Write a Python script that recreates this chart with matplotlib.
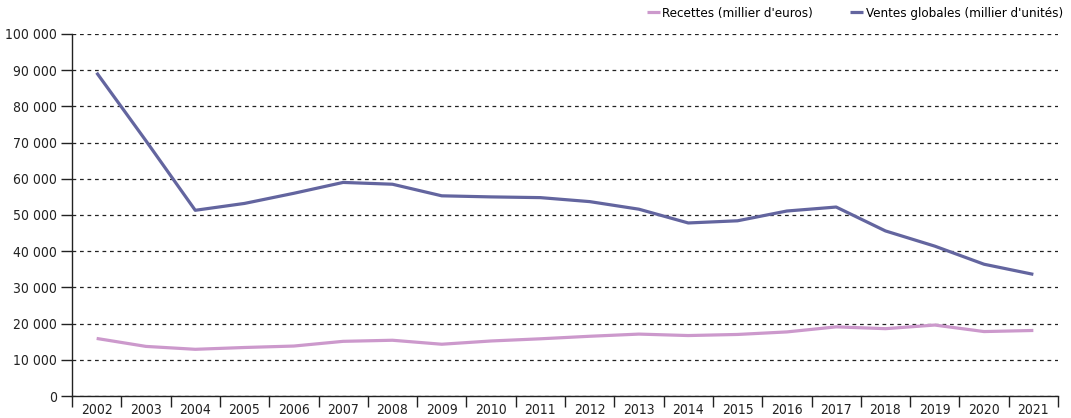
import matplotlib.pyplot as plt
from matplotlib.ticker import FuncFormatter, FixedLocator

years = ['2002', '2003', '2004', '2005', '2006', '2007', '2008', '2009', '2010', '2011',
         '2012', '2013', '2014', '2015', '2016', '2017', '2018', '2019', '2020', '2021']
recettes = [15900, 13700, 12900, 13400, 13800, 15100, 15400, 14300, 15200, 15800,
            16500, 17100, 16700, 17000, 17700, 19100, 18600, 19600, 17800, 18100]
ventes = [89300, 70500, 51300, 53200, 56000, 59000, 58500, 55300, 55000, 54800,
          53700, 51600, 47800, 48400, 51100, 52200, 45600, 41400, 36400, 33600]

plt.rcParams['font.family'] = ['DejaVu Sans']
plt.rcParams['font.stretch'] = 'condensed'

fig = plt.figure(figsize=(10.71, 4.18), dpi=100)
ax = fig.add_axes([72 / 1071, 1 - 396 / 418, (1058 - 72) / 1071, (396 - 34) / 418])

x = list(range(len(years)))
ax.plot(x, recettes, color='#cc99cc', linewidth=2.3, label="Recettes (millier d'euros)",
        solid_capstyle='butt')
ax.plot(x, ventes, color='#63659f', linewidth=2.3, label="Ventes globales (millier d'unités)",
        solid_capstyle='butt')

ax.set_xlim(-0.5, len(years) - 0.5)
ax.set_ylim(0, 100000)
ax.set_yticks(range(0, 100001, 10000))
ax.yaxis.set_major_formatter(FuncFormatter(lambda v, p: '{:,}'.format(int(v)).replace(',', ' ')))
ax.yaxis.grid(True, linestyle=(0, (3, 3)), color='#222222', linewidth=0.9)
ax.set_axisbelow(True)

ax.set_xticks(x)
ax.set_xticklabels(years)
ax.xaxis.set_minor_locator(FixedLocator([i - 0.5 for i in range(len(years) + 1)]))
ax.tick_params(axis='x', which='major', length=0, pad=5, labelsize=10, colors='#222222')
ax.tick_params(axis='x', which='minor', length=8, width=1, direction='out', color='#222222')
ax.tick_params(axis='y', which='major', length=8, width=1, direction='out', pad=3,
               labelsize=10, colors='#222222')

for s in ['top', 'right']:
    ax.spines[s].set_visible(False)
for s in ['left', 'bottom']:
    ax.spines[s].set_color('#222222')
    ax.spines[s].set_linewidth(1)

fig.legend(loc='center right', bbox_to_anchor=(1063 / 1071, 1 - 13 / 418), ncol=2,
           frameon=False, handlelength=1.0, handletextpad=0.2, columnspacing=2.8,
           fontsize=9.5, borderpad=0, borderaxespad=0)

fig.savefig('out.png', dpi=100)
